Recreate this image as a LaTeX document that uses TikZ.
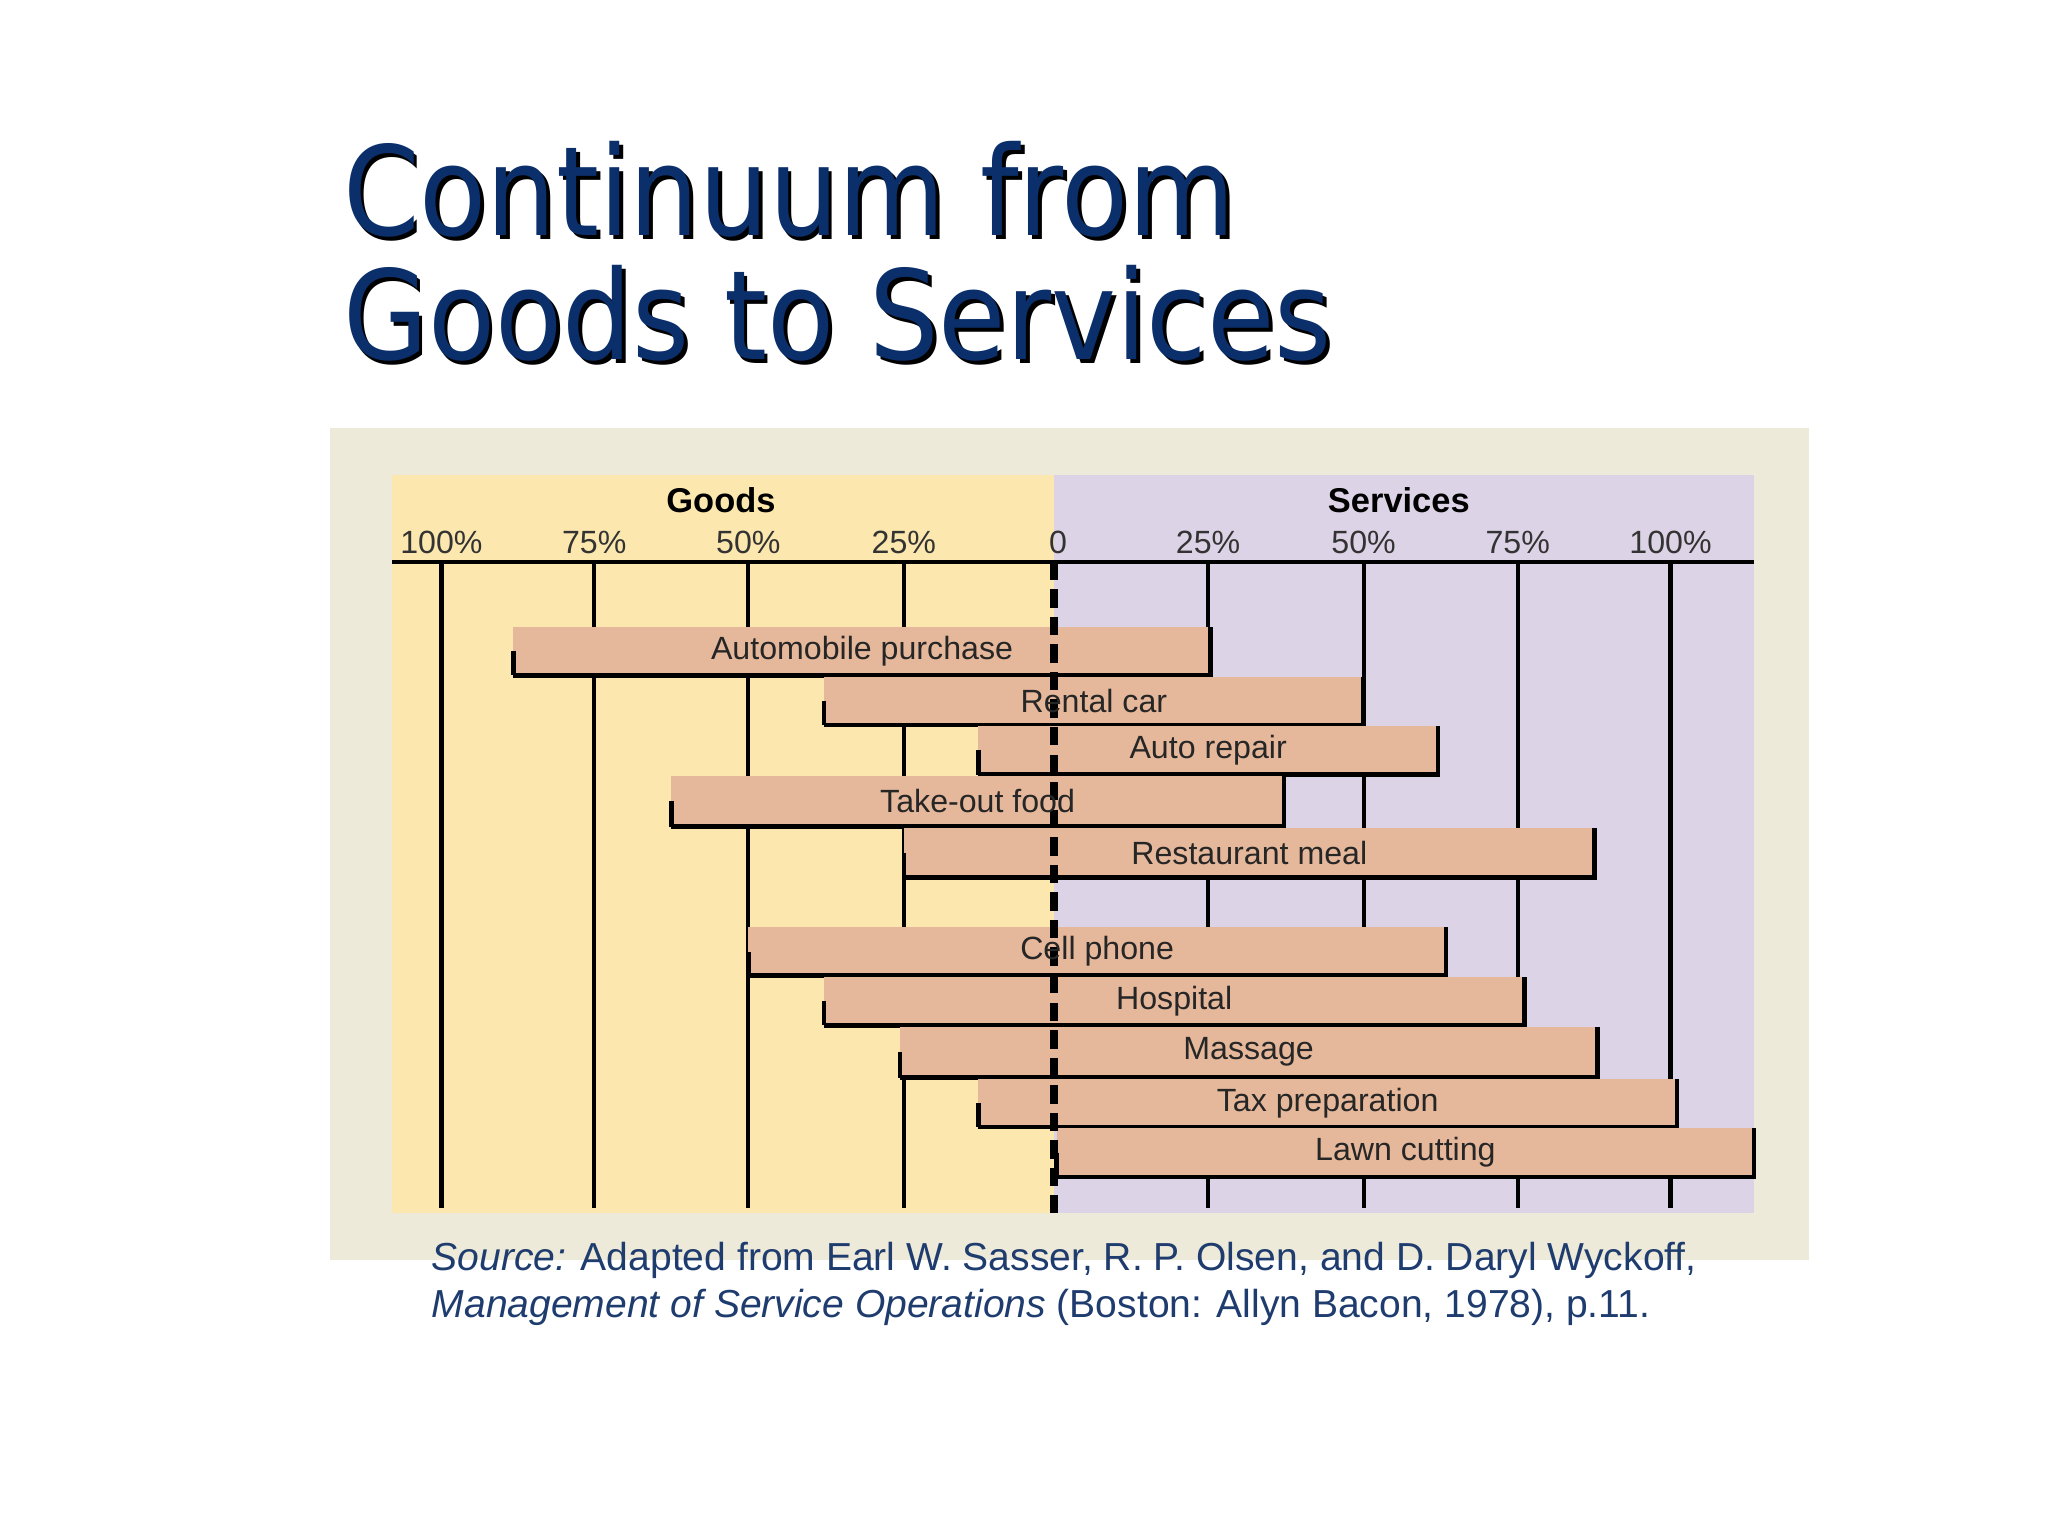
\documentclass[tikz,border=0pt]{standalone}
\usepackage{fontspec}
\setmainfont{Liberation Sans}
\newfontfamily\titlefont{DejaVu Sans}
\begin{document}
\begin{tikzpicture}[x=0.01cm,y=-0.01cm,
  barlbl/.style={font=\fontsize{7}{9}\selectfont,text=black!85},
  tick/.style={font=\fontsize{7}{8}\selectfont,text=black!80},
  vline/.style={line width=0.9pt,black},
  ttl/.style={anchor=west,font=\titlefont\fontsize{27}{30}\selectfont,inner sep=0,xscale=0.885}]
\definecolor{beige}{HTML}{EEEADA}
\definecolor{goodsc}{HTML}{FCE8AE}
\definecolor{servc}{HTML}{DDD3E6}
\definecolor{barc}{HTML}{E6B89B}
\definecolor{navy}{HTML}{0B2F6B}
\definecolor{srcc}{HTML}{1F3C6E}
\useasboundingbox[fill=white] (0,0) rectangle (1568,1176);
\fill[beige] (253,328) rectangle (1385,965);
\fill[goodsc] (300,364) rectangle (807,929);
\fill[servc] (807,364) rectangle (1343,929);
\foreach \x in {338,455,573,692,925,1044,1162,1279}
  \draw[vline] (\x,430) -- (\x,925);
\draw[vline] (300,430) -- (1343,430);
\node[font=\fontsize{7.5}{9}\selectfont\bfseries] (goods) at (552,383) {Goods};
\node[font=\fontsize{7.5}{9}\selectfont\bfseries] (serv) at (1071,383) {Services};
\foreach \x/\t in {338/100\%,455/75\%,573/50\%,692/25\%,810/0,925/25\%,1044/50\%,1162/75\%,1279/100\%}
  \node[tick] at (\x,415) {\t};
\foreach \a/\b/\ya/\yb/\t/\n in {
 393/927/480/517/Automobile purchase/b1,
 631/1044/518/555/Rental car/b2,
 749/1101/556/593/Auto repair/b3,
 514/983/594/633/Take-out food/b4,
 692/1221/634/672/Restaurant meal/b5,
 573/1107/710/747/Cell phone/b6,
 631/1167/748/785/Hospital/b7,
 689/1223/786/825/Massage/b8,
 749/1284/826/863/Tax preparation/b9,
 809/1343/864/901/Lawn cutting/b10}{
  \fill[barc] (\a,\ya) rectangle (\b,\yb);
  \draw[line width=1pt] (\a,\yb) -- (\b,\yb) -- (\b,\ya);
  \draw[line width=1pt] (\a,{(\ya+\yb)/2}) -- (\a,\yb);
}
\draw[line width=1.6pt,dash pattern=on 4pt off 2pt] (807,430) -- (807,929);
\foreach \a/\b/\ya/\yb/\t/\n in {
 393/927/480/517/Automobile purchase/b1,
 631/1044/518/555/Rental car/b2,
 749/1101/556/593/Auto repair/b3,
 514/983/594/633/Take-out food/b4,
 692/1221/634/672/Restaurant meal/b5,
 573/1107/710/747/Cell phone/b6,
 631/1167/748/785/Hospital/b7,
 689/1223/786/825/Massage/b8,
 749/1284/826/863/Tax preparation/b9,
 809/1343/864/901/Lawn cutting/b10}{
  \node[barlbl] (\n) at ({(\a+\b)/2},{(\ya+\yb)/2}) {\t};
}
\foreach \dx/\c in {3/black,0/navy}
{
\node[ttl,text=\c] at (262+\dx,145+\dx) {Continuum from};
\node[ttl,text=\c] at (262+\dx,240+\dx) {Goods to Services};
}
\node[anchor=west,font=\fontsize{8.5}{10}\selectfont,text=srcc,inner sep=0] (s1) at (330,965) {\textit{Source:} Adapted from Earl W. Sasser, R. P. Olsen, and D. Daryl Wyckoff,};
\node[anchor=west,font=\fontsize{8.5}{10}\selectfont,text=srcc,inner sep=0] (s2) at (330,1001) {\textit{Management of Service Operations} (Boston: Allyn Bacon, 1978), p.11.};
\end{tikzpicture}
\end{document}
